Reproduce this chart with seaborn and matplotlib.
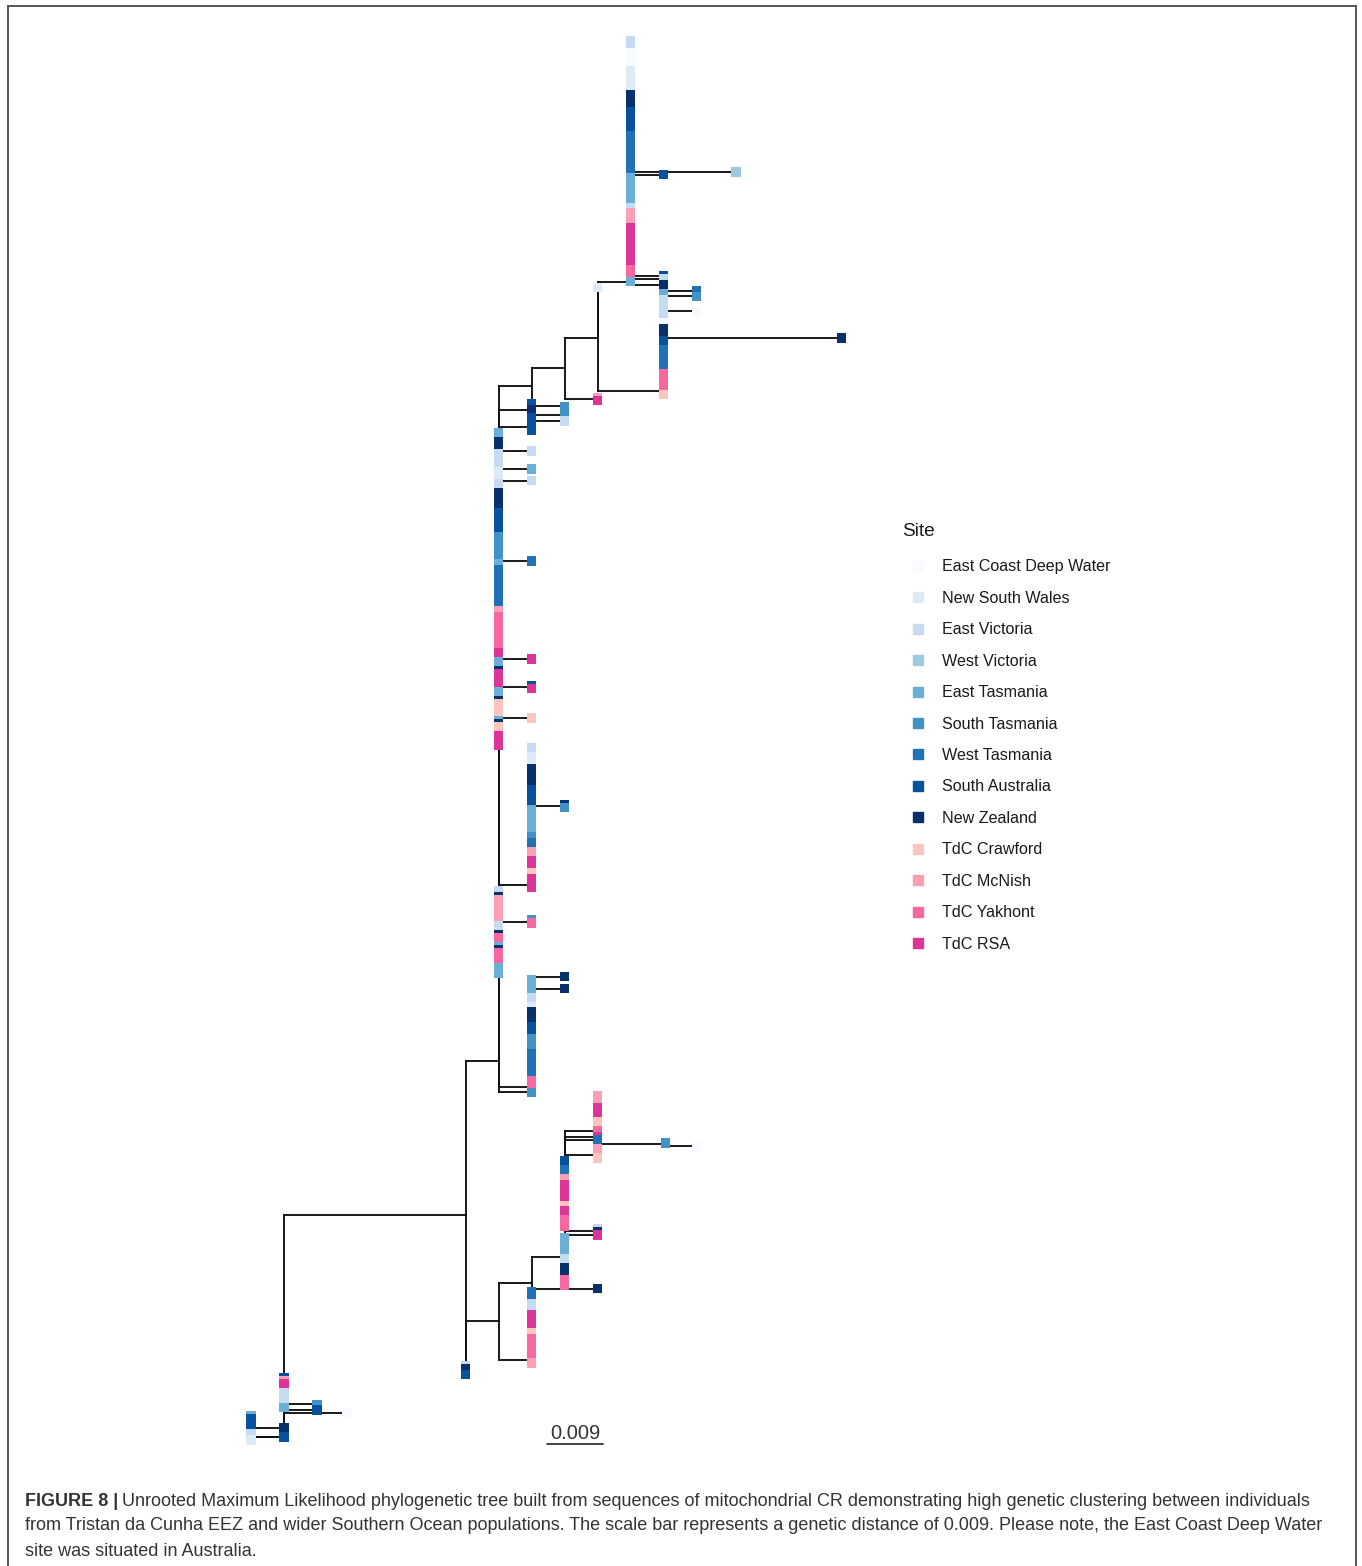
import matplotlib
matplotlib.use("Agg")
import matplotlib.pyplot as plt
from matplotlib.collections import LineCollection
from matplotlib.lines import Line2D
from matplotlib.patches import Rectangle
import pandas as pd
import seaborn as sns

# ---------------------------------------------------------------- sites
sites = ["East Coast Deep Water", "New South Wales", "East Victoria", "West Victoria",
         "East Tasmania", "South Tasmania", "West Tasmania", "South Australia",
         "New Zealand", "TdC Crawford", "TdC McNish", "TdC Yakhont", "TdC RSA"]
site_codes = ["E", "N", "V", "W", "T", "S", "X", "A", "Z", "C", "M", "Y", "R"]
site_colors = ["#F7FBFF", "#DEEBF7", "#C6DBEF", "#9ECAE1", "#6BAED6", "#4292C6",
               "#2171B5", "#08519C", "#08306B", "#FCC5C0", "#FA9FB5", "#F768A1", "#DD3497"]

# ---------------------------------------------------------------- tree
# A clade is [branch_length, child, child, ...]; a tuple (branch_length, "codes")
# is a run of sibling tips (one tip per site code) sharing that branch length.
clade_631 = [0.0053,
             [0.0, (0.0, "VVVVEEEEEENNNNNNNNZZZZZZAAAAAAAAXXXXXXXXXXXX"),
              (0.0169, "W"), (0.0053, "A"),
              (0.0, "TTTTTTTTTTVVMMMMMRRRRRRRRRRRRRRYY")],
             (0.0053, "A"), (0.0053, "V"), (0.0, "T"), (0.0053, "Z")]
clade_664 = [0.0106, (0.0053, "X"), (0.0, "T"), (0.0053, "S"), (0.0, "VVVV"),
             (0.0053, "E"), (0.0, "VVVEE"), (0.0, "ZZZ"), (0.0286, "Z"), (0.0, "AAA"),
             (0.0, "XXXXXXXX"), (0.0, "YYYYYYY"), (0.0, "C")]
clade_598 = [0.0053, clade_631, (0.0, "N"), clade_664]
clade_565 = [0.0053, clade_598, [0.0053, (0.0, "MR")]]
clade_532 = [0.0053, clade_565, (0.0, "A")]

clade_a = [0.0053, (0.0053, "S"), (0.0, "ZZ")]
clade_b = [0.0053, (0.0053, "S"), (0.0, "A"), (0.0053, "V"), (0.0, "AAA")]
clade_ar = [0.0053, (0.0, "AR")]
clade_533 = [0.0053, (0.0, "VVVNNNNZZZZZZZAAAAA"), [0.0053, (0.0, "ZS")],
             (0.0, "TTTTTTTTTSSXXXMMMRRRRCCRRRR")]
clade_sy = [0.0053, (0.0, "SY")]
clade_533b = [0.0053, (0.0053, "Z"), (0.0, "TTT"), (0.0053, "Z"),
              (0.0, "TTVVVNNZZZZZAAAASSSSSXXXXXXXXXYYYY")]
clade_500 = [0.0053, clade_532, clade_a, clade_b,
             (0.0, "TTTZZZ"), (0.0053, "V"), (0.0, "VVVVV"), (0.0053, "T"), (0.0, "NNN"),
             (0.0053, "V"), (0.0, "VVVZZZZZZZAAAAAAAASSSSSSSS"), (0.0053, "X"),
             (0.0, "TTXXXXXXXXXXXXXXMMYYYYYYYYYYYYRR"), (0.0053, "R"), (0.0, "TTTZRRRR"),
             clade_ar, (0.0, "TTTZCCCCC"), (0.0053, "C"), (0.0, "TZCCCRRRR"),
             clade_533, (0.0, "VVZMMMMMMM"), clade_sy, (0.0, "VVVZYYYTZYYYYYTTT"),
             clade_533b, (0.0053, "S")]

clade_599a = [0.0053, (0.0, "MMMMRRRRRCCCYY")]
clade_667 = [0.0109, (0.0, "S"), (0.0050, "E")]
clade_599b = [0.0053, clade_667, (0.0, "MMMC")]
clade_599c = [0.0053, (0.0, "VZ")]
clade_566 = [0.0053,
             [0.0, clade_599a, (0.0053, "R"), (0.0053, "X"), clade_599b,
              (0.0, "AAAXXXMMRRRRRRRCCRRRYYY"), clade_599c, (0.0053, "R")],
             [0.0, (0.0, "TTTTTTTVVVZZZZYYY")]]
clade_533c = [0.0053, clade_566, [0.0, (0.0106, "Z"), (0.0, "XXXXVVVV")]]
clade_533d = [0.0053, (0.0, "RRRRRRCCYYYYYYYYM")]
clade_500b = [0.0053, clade_533c, clade_533d]
clade_466 = [0.0292, clade_500, [0.0, clade_500b, (0.0, "VZZA")]]
clade_251 = [-0.0053, (0.0, "TAAA"), (0.0053, "Z"), (0.0, "AV"), (0.0053, "A"), (0.0, "N")]
tree = [0.0, clade_466, (0.0, "AMRRRVVVV"), (0.0053, "S"), (0.0, "T"), (0.0053, "A"),
        (0.0101, "E"), clade_251]

scale_bar = 0.009

# ---------------------------------------------------------------- layout
tips = []
segments = []
next_tip = [0]


def layout(node, x_parent):
    x = x_parent + node[0]
    kids = []
    for child in node[1:]:
        if isinstance(child, tuple):
            blen, codes = child
            for code in codes:
                y = next_tip[0]
                next_tip[0] += 1
                tips.append((x + blen, y, code))
                kids.append((x + blen, y))
        else:
            kids.append(layout(child, x))
    # multifurcations are resolved as a ladder of zero-length nodes
    y = kids[0][1]
    for _, ky in kids[1:]:
        y = (y + ky) / 2.0
    for kx, ky in kids:
        segments.append([(x, ky), (kx, ky)])
        segments.append([(x, y), (x, ky)])
    return x, y


layout(tree, 0.0)
code_to_site = dict(zip(site_codes, sites))
df = pd.DataFrame(tips, columns=["distance", "order", "code"])
df["Site"] = df["code"].map(code_to_site)
n_tips = len(df)

# ---------------------------------------------------------------- figure
sns.set_theme(style="white")
plt.rcParams["font.family"] = ["Liberation Sans", "DejaVu Sans"]

W, H = 1362, 1566
fig = plt.figure(figsize=(W / 100, H / 100), dpi=100)
ax = fig.add_axes([0, 0, 1, 1])
ax.set_axis_off()

px_per_unit = 6222.0
root_px = 284.0
top_px, bottom_px = 41.0, 1440.0
step = (bottom_px - top_px) / (n_tips - 1)

ax.add_collection(LineCollection(segments, colors="#111111", linewidths=1.35,
                                 capstyle="projecting", zorder=1))
sns.scatterplot(data=df, x="distance", y="order", hue="Site", hue_order=sites,
                palette=site_colors, marker="s", s=48, linewidth=0,
                legend=False, ax=ax, zorder=2)
ax.set_xlim(-root_px / px_per_unit, (W - root_px) / px_per_unit)
ax.set_ylim((H - top_px) / step, -top_px / step)
ax.set_axis_off()

# scale bar
bar_x0 = 0.0423
bar_y = n_tips - 1 + 1.2
ax.plot([bar_x0, bar_x0 + scale_bar], [bar_y, bar_y], color="#222222", lw=1.2)
ax.text(bar_x0 + scale_bar / 2, bar_y - 0.3, f"{scale_bar}", ha="center", va="bottom",
        fontsize=14.5, color="#333333")

# legend
handles = [Line2D([], [], marker="s", linestyle="", color=c, markersize=6.6)
           for c in site_colors]
leg = fig.legend(handles, sites, loc="upper left",
                 bbox_to_anchor=(902 / W, 1 - 523 / H), frameon=False,
                 title="Site", title_fontsize=13.8, fontsize=11.6,
                 alignment="left", handlelength=2.0, handletextpad=0.5,
                 labelspacing=1.02, borderpad=0, borderaxespad=0)
for t in leg.get_texts():
    t.set_color("#1a1a1a")
leg.get_title().set_color("#1a1a1a")
leg._legend_box.sep = 14

# frame
fig.patches.append(Rectangle((8 / W, -0.01), 1348 / W, 1 - 6 / H + 0.01,
                             transform=fig.transFigure, fill=False,
                             edgecolor="#555555", lw=1.4))

# caption
cap_size = 13.0
cap_color = "#333333"
lines = [
    "Unrooted Maximum Likelihood phylogenetic tree built from sequences of mitochondrial CR demonstrating high genetic clustering between individuals",
    "from Tristan da Cunha EEZ and wider Southern Ocean populations. The scale bar represents a genetic distance of 0.009. Please note, the East Coast Deep Water",
    "site was situated in Australia.",
]
line_y = [1501, 1526, 1551]
head = fig.text(25 / W, 1 - line_y[0] / H, "FIGURE 8 |", fontsize=cap_size,
                fontweight="bold", color=cap_color, va="center")
fig.canvas.draw()
bb = head.get_window_extent(renderer=fig.canvas.get_renderer())
fig.text((bb.x1 + 4) / W, 1 - line_y[0] / H, lines[0], fontsize=cap_size,
         color=cap_color, va="center")
for txt, yy in zip(lines[1:], line_y[1:]):
    fig.text(25 / W, 1 - yy / H, txt, fontsize=cap_size, color=cap_color, va="center")

fig.savefig("out.png", dpi=100)
